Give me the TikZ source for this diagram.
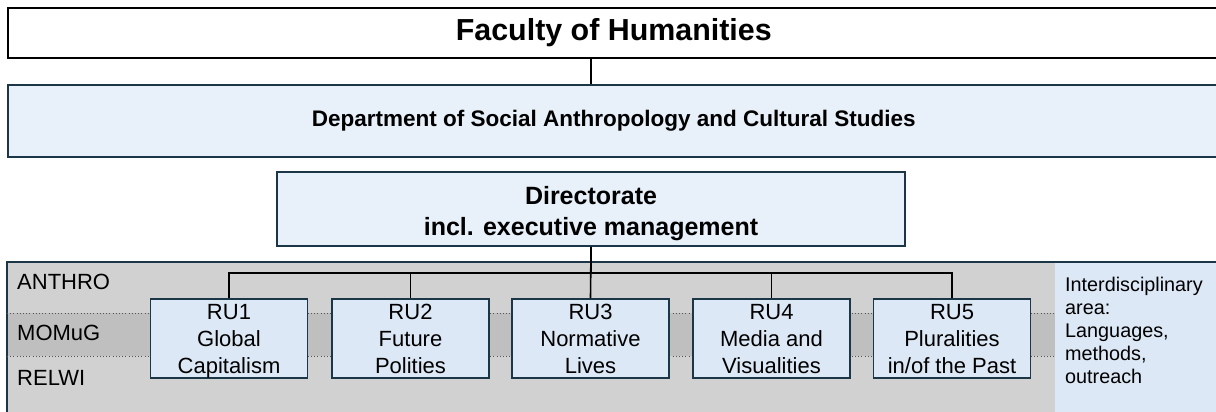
\documentclass[tikz,border=0pt]{standalone}
\usepackage{fontspec}
\setmainfont{Liberation Sans}
\definecolor{grayA}{HTML}{D1D1D1}
\definecolor{grayB}{HTML}{BFBFBF}
\definecolor{blueA}{HTML}{E8F0F9}
\definecolor{blueB}{HTML}{DCE8F5}
\definecolor{edgec}{HTML}{1B3646}
\definecolor{dotc}{HTML}{555555}
\newcommand\ruTop{\rule{0pt}{21pt}}
\newcommand\ruBot{\rule[-4.7pt]{0pt}{0pt}}
\tikzset{
  wide/.style={minimum width=1212pt, anchor=west, inner sep=0pt},
  rubox/.style={draw=edgec, line width=1.8pt, fill=blueB, minimum width=157pt, minimum height=79pt, inner sep=0pt, align=center, font=\fontsize{22}{26.7}\selectfont},
  lane/.style={anchor=base west, inner sep=0pt, font=\fontsize{22}{26}\selectfont},
  conn/.style={black, line width=1.6pt},
  dotline/.style={dotc, line width=0.9pt, dash pattern=on 1pt off 2.2pt}
}
\begin{document}
\begin{tikzpicture}[x=1pt,y=-1pt]
\useasboundingbox (0,0) rectangle (1216,412);
\clip (0,0) rectangle (1216,412);
\fill[white] (0,0) rectangle (1216,412);

% Faculty
\node[wide, draw=black, line width=1.6pt, fill=white, minimum height=50pt,
      font=\fontsize{30.4}{35}\selectfont\bfseries] (fac) at (7,33) {Faculty of Humanities};
% Department
\node[wide, draw=edgec, line width=1.6pt, fill=blueA, minimum height=72pt,
      font=\fontsize{22.5}{27}\selectfont\bfseries] (dept) at (7,121) {Department of Social Anthropology and Cultural Studies};
% Directorate
\node[draw=edgec, line width=1.6pt, fill=blueA, minimum width=628pt, minimum height=74pt, inner sep=0pt,
      align=center, font=\fontsize{25}{31}\selectfont\bfseries] (dir) at (591,209)
      {\rule{0pt}{32pt}Directorate\\incl. executive management\rule[-11pt]{0pt}{0pt}};

\draw[conn] (dir.north |- fac.south) -- (dir.north |- dept.north);

% lower area
\fill[grayA] (7,262) rectangle (1055,416);
\fill[grayB] (7,313) rectangle (1055,356);
\fill[blueB] (1055,262) rectangle (1222,416);
\draw[edgec, line width=1.4pt] (1222,262) -- (7,262) -- (7,416);
\draw[dotline] (7,313) -- (1055,313);
\draw[dotline] (7,356) -- (1055,356);

\node[lane] (anthro) at (17,289) {ANTHRO};
\node[lane] (momug) at (17,340) {MOMuG};
\node[lane] (relwi) at (17,385) {RELWI};

\node[anchor=north west, inner sep=0pt, align=left, font=\fontsize{19.8}{23}\selectfont] (inter) at (1065,271)
  {\rule{0pt}{20pt}Interdisciplinary\\area:\\Languages,\\methods,\\outreach};

% research units
\node[rubox] (ru1) at (229,338.5) {\ruTop RU1\\Global\\Capitalism\ruBot};
\node[rubox] (ru2) at (410.5,338.5) {\ruTop RU2\\Future\\Polities\ruBot};
\node[rubox] (ru3) at (590.5,338.5) {\ruTop RU3\\Normative\\Lives\ruBot};
\node[rubox] (ru4) at (771.5,338.5) {\ruTop RU4\\Media and\\Visualities\ruBot};
\node[rubox] (ru5) at (952,338.5) {\ruTop RU5\\Pluralities\\in/of the Past\ruBot};

\coordinate (bar) at (591,273);
\draw[conn] (dir.south) -- (ru3.north);
\foreach \r in {ru1,ru2,ru4,ru5}
  \draw[conn] (dir.south) -- (dir.south |- bar) -| (\r.north);
\end{tikzpicture}
\end{document}
